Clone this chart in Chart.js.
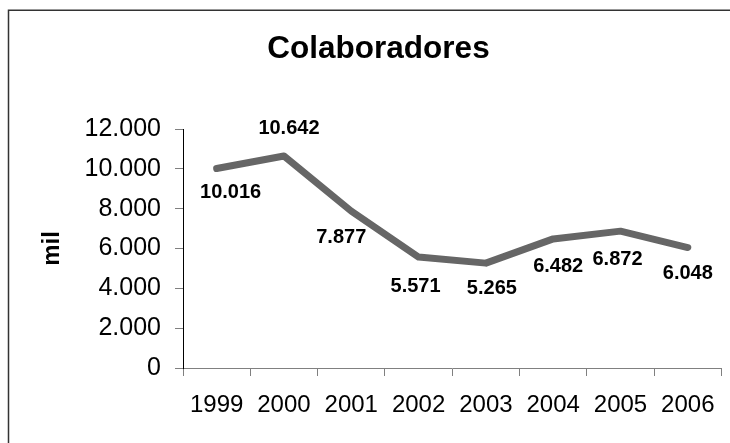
<!DOCTYPE html>
<html>
<head>
<meta charset="utf-8">
<script src="https://cdn.jsdelivr.net/npm/chart.js@4/dist/chart.umd.min.js"></script>
<style>
  html, body { margin: 0; padding: 0; background: #fff; }
  #wrap { width: 730px; height: 443px; position: relative; }
</style>
</head>
<body>
<div id="wrap"><canvas id="myChart" width="730" height="443"></canvas></div>
<script>
// chart data
var years = ['1999', '2000', '2001', '2002', '2003', '2004', '2005', '2006'];
var colaboradores = [10016, 10642, 7877, 5571, 5265, 6482, 6872, 6048];
var yTicks = [0, 2000, 4000, 6000, 8000, 10000, 12000];
var chartTitle = 'Colaboradores';

// where each value label sits relative to its point (px)
var labelDx = [14, 5, -10, -3, 6, 5, -3, 0];
var labelDy = [24, -28, 26, 29, 25, 28, 28, 26];

var FONT = '"Liberation Sans", Arial, sans-serif';

function fmt(n) {
    return String(n).replace(/\B(?=(\d{3})+(?!\d))/g, '.');
}

var frameAndLabels = {
    id: 'frameAndLabels',
    beforeDraw: function(chart) {
        var ctx = chart.ctx;
        ctx.save();
        ctx.fillStyle = '#fff';
        ctx.fillRect(0, 0, chart.width, chart.height);
        // outer frame (right and bottom edges fall off the picture)
        ctx.strokeStyle = '#333';
        ctx.lineWidth = 1.5;
        ctx.strokeRect(8.5, 10.25, 740, 450);
        // title
        ctx.fillStyle = '#000';
        ctx.font = 'bold 31.5px ' + FONT;
        ctx.textAlign = 'center';
        ctx.textBaseline = 'middle';
        ctx.fillText(chartTitle, 378.5, 49);
        ctx.restore();
    },
    afterDatasetsDraw: function(chart) {
        var ctx = chart.ctx;
        var meta = chart.getDatasetMeta(0);
        ctx.save();
        ctx.font = 'bold 20px ' + FONT;
        ctx.fillStyle = '#000';
        ctx.textAlign = 'center';
        ctx.textBaseline = 'middle';
        meta.data.forEach(function(pt, i) {
            ctx.fillText(fmt(colaboradores[i]), pt.x + labelDx[i], pt.y + labelDy[i]);
        });
        ctx.restore();
    }
};

var ctx = document.getElementById('myChart').getContext('2d');
var chart = new Chart(ctx, {
    type: 'line',
    data: {
        labels: years,
        datasets: [{
            label: chartTitle,
            data: colaboradores,
            borderColor: '#666666',
            borderWidth: 7,
            borderCapStyle: 'round',
            borderJoinStyle: 'round',
            pointRadius: 0,
            tension: 0,
            fill: false
        }]
    },
    options: {
        responsive: false,
        animation: false,
        layout: { padding: { left: 0, right: 8, top: 129, bottom: 0 } },
        plugins: {
            legend: { display: false },
            tooltip: { enabled: false },
            title: { display: false }
        },
        scales: {
            x: {
                offset: true,
                grid: { display: true, drawOnChartArea: false, tickLength: 8, tickColor: '#808080', offset: true },
                border: { color: '#808080', width: 1 },
                ticks: {
                    color: '#000',
                    padding: 15,
                    maxRotation: 0,
                    autoSkip: false,
                    font: { family: FONT, size: 24 }
                },
                afterFit: function(scale) { scale.height = 75; }
            },
            y: {
                min: 0,
                max: 12000,
                afterBuildTicks: function(scale) {
                    scale.ticks = yTicks.map(function(v) { return { value: v }; });
                },
                grid: { display: true, drawOnChartArea: false, tickLength: 8, tickColor: '#808080' },
                border: { color: '#000', width: 1 },
                ticks: {
                    color: '#000',
                    padding: 14,
                    font: { family: FONT, size: 25 },
                    callback: function(v) { return fmt(v); }
                },
                title: {
                    display: true,
                    text: 'mil',
                    color: '#000',
                    font: { family: FONT, size: 24, weight: 'bold' },
                    padding: { top: 38, bottom: 0 }
                },
                afterFit: function(scale) { scale.width = 183; }
            }
        }
    },
    plugins: [frameAndLabels]
});
</script>
</body>
</html>
